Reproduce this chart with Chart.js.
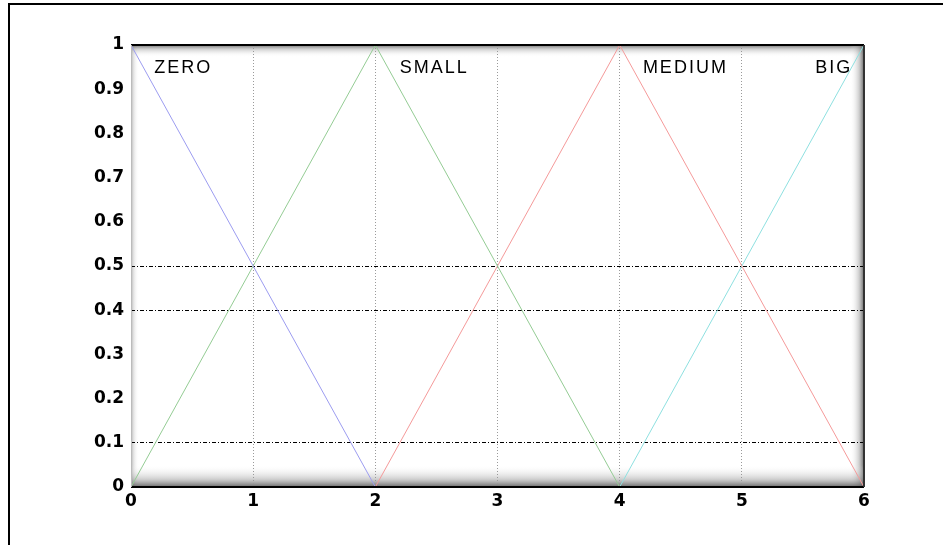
<!DOCTYPE html>
<html>
<head>
<meta charset="utf-8">
<script src="https://cdn.jsdelivr.net/npm/chart.js@4.4.1/dist/chart.umd.min.js"></script>
<style>
  html, body { margin: 0; padding: 0; background: #fff; }
  #wrap { width: 943px; height: 545px; position: relative; }
</style>
</head>
<body>
<div id="wrap"><canvas id="mf"></canvas></div>
<script>
// membership functions (x, mu)
const zeroX = [0, 2];
const zeroY = [1, 0];
const smallX = [0, 2, 4];
const smallY = [0, 1, 0];
const mediumX = [2, 4, 6];
const mediumY = [0, 1, 0];
const bigX = [4, 6];
const bigY = [0, 1];

const setNames = ['ZERO', 'SMALL', 'MEDIUM', 'BIG'];
const nameX = [0.19, 2.2, 4.19, 5.6];
const nameY = 0.948;

const hGrid = [0.1, 0.4, 0.5];

const toPts = (xs, ys) => xs.map((x, i) => ({ x: x, y: ys[i] }));

const line = (label, xs, ys, color) => ({
    label: label,
    data: toPts(xs, ys),
    borderColor: color,
    borderWidth: 1,
    pointRadius: 0,
    tension: 0,
    fill: false
});

const tickFont = { family: '"DejaVu Sans", Arial, sans-serif', size: 17, weight: 'bold' };

// frame + inner shadow of the axes box
const boxPlugin = {
    id: 'box',
    beforeDraw(chart) {
        const { ctx, chartArea: a } = chart;
        ctx.save();
        ctx.fillStyle = '#fff';
        ctx.fillRect(0, 0, chart.width, chart.height);
        // outer frame
        ctx.strokeStyle = '#000';
        ctx.lineWidth = 2;
        ctx.beginPath();
        ctx.moveTo(9, 545);
        ctx.lineTo(9, 4);
        ctx.lineTo(943, 4);
        ctx.stroke();

        const shade = (x0, y0, x1, y1, rx, ry, rw, rh, k) => {
            const g = ctx.createLinearGradient(x0, y0, x1, y1);
            g.addColorStop(0, 'rgba(80,80,80,' + k + ')');
            g.addColorStop(0.35, 'rgba(140,140,140,' + (k * 0.5) + ')');
            g.addColorStop(1, 'rgba(255,255,255,0)');
            ctx.fillStyle = g;
            ctx.fillRect(rx, ry, rw, rh);
        };
        const w = a.right - a.left, h = a.bottom - a.top;
        shade(a.left, 0, a.left + 8, 0, a.left, a.top, 8, h, 0.45);
        shade(0, a.top, 0, a.top + 12, a.left, a.top, w, 12, 0.8);
        shade(a.right, 0, a.right - 14, 0, a.right - 14, a.top, 14, h, 0.85);
        shade(0, a.bottom, 0, a.bottom - 22, a.left, a.bottom - 22, w, 22, 0.85);
        ctx.restore();
    },
    afterDraw(chart) {
        const { ctx, chartArea: a, scales } = chart;
        ctx.save();
        ctx.lineWidth = 2;
        ctx.strokeStyle = '#000';
        ctx.beginPath();
        ctx.moveTo(a.left, a.top);
        ctx.lineTo(a.right, a.top);
        ctx.moveTo(a.left, a.bottom);
        ctx.lineTo(a.right, a.bottom);
        ctx.stroke();
        ctx.strokeStyle = '#333';
        ctx.beginPath();
        ctx.moveTo(a.right, a.top);
        ctx.lineTo(a.right, a.bottom);
        ctx.stroke();
        ctx.lineWidth = 1;
        ctx.strokeStyle = '#bbb';
        ctx.beginPath();
        ctx.moveTo(a.left + 0.5, a.top);
        ctx.lineTo(a.left + 0.5, a.bottom);
        ctx.stroke();

        // set names
        ctx.fillStyle = '#000';
        ctx.font = '18px "Liberation Sans", Arial, sans-serif';
        ctx.letterSpacing = '2px';
        ctx.textBaseline = 'middle';
        ctx.textAlign = 'left';
        setNames.forEach((n, i) => {
            ctx.fillText(n, scales.x.getPixelForValue(nameX[i]), scales.y.getPixelForValue(nameY));
        });
        ctx.restore();
    }
};

new Chart(document.getElementById('mf'), {
    type: 'line',
    data: {
        datasets: [
            line('ZERO', zeroX, zeroY, '#9c9cf0'),
            line('SMALL', smallX, smallY, '#94cc94'),
            line('MEDIUM', mediumX, mediumY, '#f59a9a'),
            line('BIG', bigX, bigY, '#8ee0e0')
        ]
    },
    options: {
        responsive: true,
        maintainAspectRatio: false,
        animation: false,
        layout: { padding: { top: 45, right: 79, left: 0, bottom: 0 } },
        plugins: {
            legend: { display: false },
            tooltip: { enabled: false }
        },
        scales: {
            x: {
                type: 'linear',
                min: 0,
                max: 6,
                afterFit: s => { s.height = 58; },
                ticks: {
                    stepSize: 1,
                    color: '#000',
                    padding: 4,
                    font: tickFont
                },
                grid: {
                    drawTicks: false,
                    color: c => (c.tick.value > 0 && c.tick.value < 6) ? '#9a9a9a' : 'rgba(0,0,0,0)',
                    lineWidth: 1
                },
                border: { display: false, dash: [1, 2] }
            },
            y: {
                min: 0,
                max: 1,
                afterFit: s => { s.width = 131; },
                ticks: {
                    stepSize: 0.1,
                    color: '#000',
                    padding: 7,
                    font: tickFont,
                    callback: v => String(Math.round(v * 10) / 10)
                },
                grid: {
                    drawTicks: false,
                    color: c => hGrid.some(v => Math.abs(v - c.tick.value) < 1e-6) ? '#000' : 'rgba(0,0,0,0)',
                    lineWidth: 1
                },
                border: { display: false, dash: [4, 2, 1, 2] }
            }
        }
    },
    plugins: [boxPlugin]
});
</script>
</body>
</html>
